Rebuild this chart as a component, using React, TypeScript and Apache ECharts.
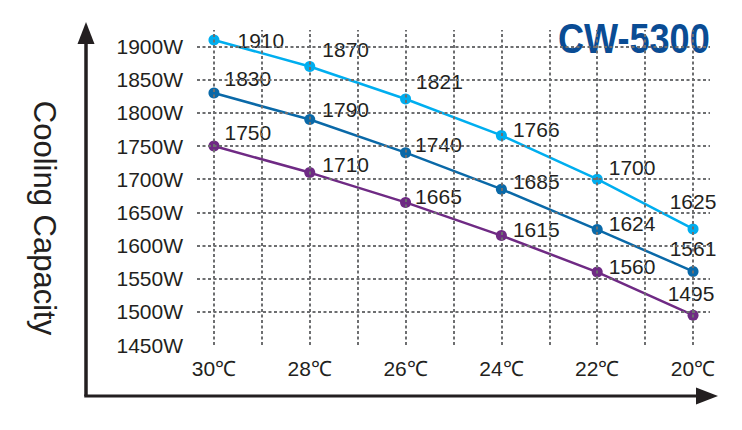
import React, { useEffect, useRef } from "react";
import * as echarts from "echarts";

const categories = ["30℃", "28℃", "26℃", "24℃", "22℃", "20℃"];
const seriesHigh = [1910, 1870, 1821, 1766, 1700, 1625];
const seriesMid = [1830, 1790, 1740, 1685, 1624, 1561];
const seriesLow = [1750, 1710, 1665, 1615, 1560, 1495];
const yTickValues = [1450, 1500, 1550, 1600, 1650, 1700, 1750, 1800, 1850, 1900];
const yGridValues = [1500, 1550, 1600, 1650, 1700, 1750, 1800, 1850, 1900];
const xGridValues = [0, 0.5, 1, 1.5, 2, 2.5, 3, 3.5, 4, 4.5, 5];
const titleText = "CW-5300";
const yTitle = "Cooling Capacity";

const FONT = "'Liberation Sans', Arial, sans-serif";
const TEXT = "#231f20";

// label offsets (layout only)
const offHigh = [[13, 1], [2, -17], [0, -17], [1, -6], [1, -12], [0, -6]];
const offMid = [[0, -15], [2, -10], [-1, -8], [1, -8], [1, -6], [0, -2]];
const offLow = [[0, -14], [2, -8], [-1, -6], [1, -6], [1, -6], [-2, -1]];

function buildSeries(name: string, values: number[], color: string, offs: number[][]) {
  return {
    name,
    type: "line",
    z: 3,
    data: values.map((v, i) => {
      const last = i === values.length - 1;
      return {
        value: [i, v],
        label: {
          position: last ? "top" : "right",
          offset: offs[i],
        },
      };
    }),
    symbol: "circle",
    symbolSize: 11,
    lineStyle: { color, width: 2.5 },
    itemStyle: { color },
    label: {
      show: true,
      formatter: (p: any) => String(p.value[1]),
      fontFamily: FONT,
      fontSize: 21,
      color: TEXT,
    },
  };
}

export default function App() {
  const ref = useRef<HTMLDivElement>(null);
  useEffect(() => {
    if (!ref.current) return;
    const chart = echarts.init(ref.current, undefined, { renderer: "svg" });
    const dotted = { color: "#6d6e70", width: 2, type: [3, 2.5] as any };
    chart.setOption({
      animation: false,
      backgroundColor: "#ffffff",
      grid: { left: 197, right: 32, top: 30, bottom: 85 },
      xAxis: {
        type: "value",
        min: -0.177,
        max: 5.177,
        axisLine: { show: false },
        axisTick: { show: false },
        splitLine: { show: false },
        axisLabel: {
          customValues: [0, 1, 2, 3, 4, 5],
          formatter: (v: number) => categories[Math.round(v)] ?? "",
          fontFamily: FONT,
          fontSize: 21,
          color: TEXT,
          margin: 13,
        },
      },
      yAxis: {
        type: "value",
        min: 1450,
        max: 1925,
        axisLine: { show: false },
        axisTick: { show: false },
        splitLine: { show: false },
        axisLabel: {
          customValues: yTickValues,
          formatter: (v: number) => v + "W",
          fontFamily: FONT,
          fontSize: 21,
          color: TEXT,
          margin: 14,
        },
      },
      series: [
        {
          name: "grid",
          type: "line",
          z: 1,
          data: [],
          silent: true,
          markLine: {
            silent: true,
            symbol: ["none", "none"],
            label: { show: false },
            lineStyle: dotted,
            data: [
              ...yGridValues.map((v) => ({ yAxis: v })),
              ...xGridValues.map((v) => ({ xAxis: v })),
            ],
          },
        },
        buildSeries("high", seriesHigh, "#00aeef", offHigh),
        buildSeries("mid", seriesMid, "#0a69a8", offMid),
        buildSeries("low", seriesLow, "#6f2a84", offLow),
      ],
      graphic: [
        {
          type: "line",
          shape: { x1: 86, y1: 396, x2: 86, y2: 40 },
          style: { stroke: TEXT, lineWidth: 3.5 },
        },
        {
          type: "polygon",
          shape: { points: [[86, 22], [77.5, 44], [94.5, 44]] },
          style: { fill: TEXT },
        },
        {
          type: "line",
          shape: { x1: 84.25, y1: 396, x2: 700, y2: 396 },
          style: { stroke: TEXT, lineWidth: 3 },
        },
        {
          type: "polygon",
          shape: { points: [[718, 396], [696, 387.5], [696, 404.5]] },
          style: { fill: TEXT },
        },
        {
          type: "text",
          x: 44,
          y: 218,
          rotation: -Math.PI / 2,
          style: {
            text: yTitle,
            fontFamily: FONT,
            fontSize: 31,
            fill: TEXT,
            align: "center",
            verticalAlign: "middle",
          },
        },
        {
          type: "text",
          x: 558,
          y: 38,
          scaleX: 0.84,
          style: {
            text: titleText,
            fontFamily: FONT,
            fontSize: 43,
            fontWeight: "bold",
            fill: "#0a4c94",
            align: "left",
            verticalAlign: "middle",
          },
        },
      ],
    });
    return () => chart.dispose();
  }, []);
  return (
    <div
      ref={ref}
      style={{ position: "absolute", left: 0, top: 0, width: 742, height: 430 }}
    />
  );
}
